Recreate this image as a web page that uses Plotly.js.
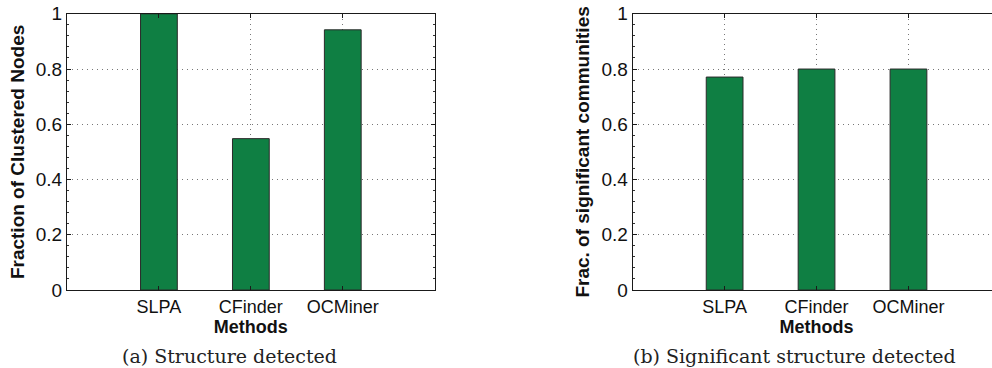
<!DOCTYPE html>
<html>
<head>
<meta charset="utf-8">
<script src="https://cdn.plot.ly/plotly-3.0.1.min.js"></script>
<style>
html,body{margin:0;padding:0;overflow:hidden;background:#fff;width:992px;height:368px;}
#chart{width:1002px;height:368px;}
</style>
</head>
<body>
<div id="chart"></div>
<script>
const methods = ["SLPA", "CFinder", "OCMiner"];
const clusteredFraction = [1.0, 0.548, 0.942];
const significantFraction = [0.771, 0.80, 0.80];
const yTickVals = [0, 0.2, 0.4, 0.6, 0.8, 1];
const yTickText = ["0", "0.2", "0.4", "0.6", "0.8", "1"];
const leftYTitle = "Fraction of Clustered Nodes";
const rightYTitle = "Frac. of significant communities";
const xTitle = "Methods";
const captions = ["(a) Structure detected", "(b) Significant structure detected"];

const W = 1002, H = 368;
const barColor = "#0f7f43";
const sans = "Liberation Sans, Arial, Helvetica, sans-serif";

function bar(y, xa, ya) {
  return {
    type: "bar", x: methods, y: y, xaxis: xa, yaxis: ya,
    width: 0.4,
    marker: {color: barColor, line: {color: "#2a2a2a", width: 1}},
    hoverinfo: "x+y", showlegend: false
  };
}

function xaxis(domain) {
  return {
    domain: domain, type: "category", range: [-1, 3],
    showline: true, linecolor: "#1a1a1a", linewidth: 1, mirror: "allticks",
    ticks: "inside", ticklen: 4, tickcolor: "#1a1a1a",
    showgrid: true, gridcolor: "#777", griddash: "1px,4px", gridwidth: 1,
    tickfont: {family: sans, size: 18, color: "#111"},
    title: {text: "<b>" + xTitle + "</b>", font: {family: sans, size: 18, color: "#111"}, standoff: 0},
    zeroline: false, fixedrange: true
  };
}
function yaxis(domain, title, anchor, size, standoff) {
  return {
    domain: domain, anchor: anchor, range: [0, 1],
    tickvals: yTickVals, ticktext: yTickText,
    showline: true, linecolor: "#1a1a1a", linewidth: 1, mirror: "allticks",
    ticks: "inside", ticklen: 4, tickcolor: "#1a1a1a",
    minor: {dtick: 0.04, tick0: 0, ticks: "inside", ticklen: 2, tickcolor: "#333", showgrid: false},
    showgrid: true, gridcolor: "#777", griddash: "1px,4px", gridwidth: 1,
    tickfont: {family: sans, size: 19, color: "#111"},
    title: {text: "<b>" + title + "</b>", font: {family: sans, size: size, color: "#111"}, standoff: standoff},
    zeroline: false, fixedrange: true
  };
}

const yDom = [1 - 290/H, 1 - 13.8/H];
const layout = {
  width: W, height: H,
  margin: {l: 0, r: 0, t: 0, b: 0},
  paper_bgcolor: "#fff", plot_bgcolor: "#fff",
  bargap: 0,
  xaxis: Object.assign(xaxis([67/W, 434.7/W]), {anchor: "y"}),
  yaxis: yaxis(yDom, leftYTitle, "x", 19, 6),
  xaxis2: Object.assign(xaxis([632.7/W, 1000.4/W]), {anchor: "y2"}),
  yaxis2: yaxis(yDom, rightYTitle, "x2", 19, 6),
  annotations: [
    {text: captions[0], xref: "paper", yref: "paper", x: 229/W, y: 1 - 356/H, xanchor: "center", yanchor: "middle", showarrow: false,
     font: {family: "DejaVu Serif, Liberation Serif, serif", size: 19, color: "#222"}},
    {text: captions[1], xref: "paper", yref: "paper", x: 794/W, y: 1 - 356/H, xanchor: "center", yanchor: "middle", showarrow: false,
     font: {family: "DejaVu Serif, Liberation Serif, serif", size: 19, color: "#222"}}
  ]
};

Plotly.newPlot("chart", [bar(clusteredFraction, "x", "y"), bar(significantFraction, "x2", "y2")], layout, {displayModeBar: false, staticPlot: true});
</script>
</body>
</html>
